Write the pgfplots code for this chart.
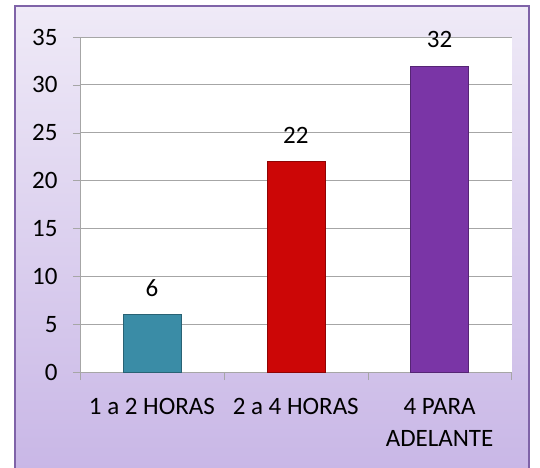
\documentclass[border=0pt]{standalone}
\usepackage{fontspec}
\setmainfont{Carlito}
\usepackage{pgfplots}
\pgfplotsset{compat=1.18}

\definecolor{frame}{HTML}{7F63A8}
\definecolor{bgtop}{HTML}{EFEAF7}
\definecolor{bgbot}{HTML}{C8B6E6}
\definecolor{barA}{HTML}{3A8CA6}
\definecolor{barB}{HTML}{CC0606}
\definecolor{barC}{HTML}{7A35A6}
\definecolor{gridc}{HTML}{A6A6A6}

\pgfdeclarelayer{bg}
\pgfsetlayers{bg,main}

\newcommand{\chartfont}{\fontsize{25bp}{32bp}\selectfont}

\begin{document}
\begin{tikzpicture}
  \begin{axis}[
      scale only axis, width=431.5bp, height=335bp,
      xmin=-0.5, xmax=2.5, ymin=0, ymax=35,
      axis background/.style={fill=white},
      axis lines*=left,
      axis line style={gridc},
      ytick={0,5,...,35},
      xtick={0,1,2},
      xticklabels={1 a 2 HORAS, 2 a 4 HORAS, {4 PARA\\ADELANTE}},
      xticklabel style={align=center, font=\chartfont, yshift=-16bp},
      yticklabel style={font=\chartfont, xshift=-12bp},
      minor xtick={-0.5,0.5,1.5,2.5},
      major x tick style={draw=none},
      minor x tick style={draw=gridc},
      major y tick style={draw=gridc},
      tick align=outside,
      major tick length=7bp,
      minor tick length=8bp,
      ymajorgrids,
      grid style={gridc, line width=0.8bp},
      /pgf/number format/assume math mode=true,
      nodes near coords,
      every node near coord/.append style={font=\chartfont, anchor=south, inner sep=0pt, yshift=18bp},
      clip=false,
    ]
    \addplot[ybar, bar width=58bp, bar shift=0pt, fill=barA, draw=barA!70!black] coordinates {(0,6)};
    \addplot[ybar, bar width=58bp, bar shift=0pt, fill=barB, draw=barB!70!black] coordinates {(1,22)};
    \addplot[ybar, bar width=58bp, bar shift=0pt, fill=barC, draw=barC!70!black] coordinates {(2,32)};
    \coordinate (O) at (rel axis cs:0,0);
  \end{axis}
  \begin{pgfonlayer}{bg}
    \path[use as bounding box, fill=white] ([shift={(-80bp,-96bp)}]O) rectangle ++(540bp,468bp);
    \shade[top color=bgtop, bottom color=bgbot] ([shift={(-65bp,-106bp)}]O) rectangle ([shift={(449bp,366bp)}]O);
    \draw[frame, line width=2bp] ([shift={(-65bp,-106bp)}]O) rectangle ([shift={(449bp,366bp)}]O);
  \end{pgfonlayer}
\end{tikzpicture}
\end{document}
